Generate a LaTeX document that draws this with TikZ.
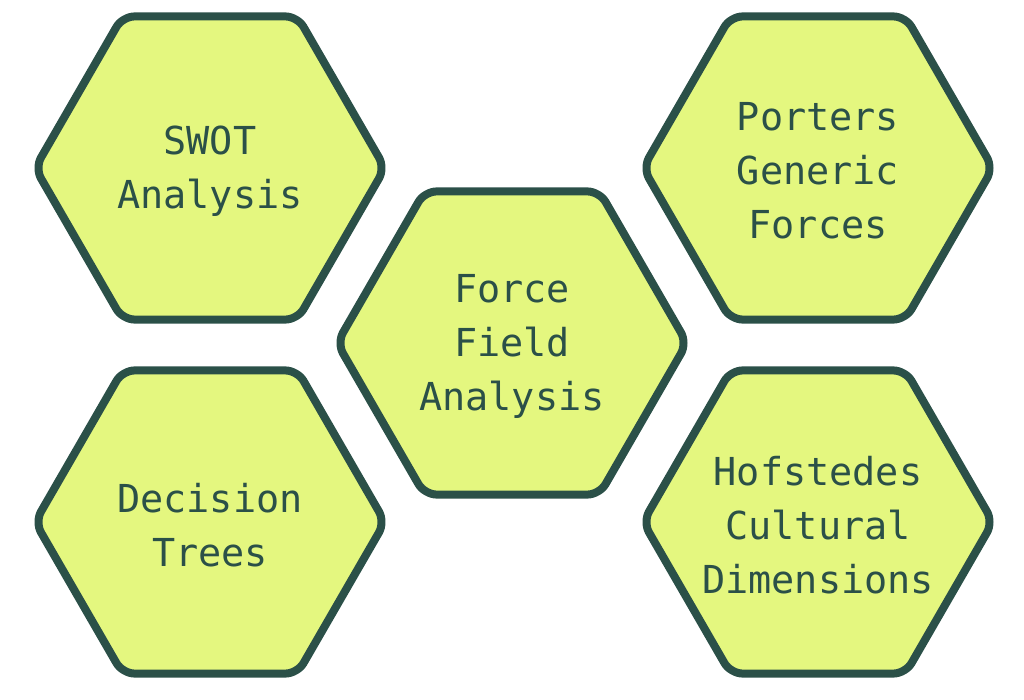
\documentclass[tikz,border=0pt]{standalone}
\usepackage{fontspec}
\setmonofont{DejaVu Sans Mono}
\usetikzlibrary{shapes.geometric}
\definecolor{hexfill}{HTML}{E4F77F}
\definecolor{hexline}{HTML}{2B5048}
\tikzset{
  hexbox/.style={regular polygon, regular polygon sides=6, minimum size=350pt,
    inner sep=0pt, draw=hexline, fill=hexfill, line width=8pt, rounded corners=12pt},
  hextext/.style={text=hexline, align=center, inner sep=0pt, yshift=-3pt,
    font=\ttfamily\fontsize{38.5}{54}\selectfont}
}
\begin{document}
\begin{tikzpicture}[x=1pt,y=-1pt]
\useasboundingbox (0,0) rectangle (1024,700);
\node[hexbox] (swot) at (210,168) {};
\node[hexbox] (porters) at (818,168) {};
\node[hexbox] (force) at (512,343) {};
\node[hexbox] (decision) at (210,522) {};
\node[hexbox] (hofstede) at (818,522) {};
\node[hextext] (swott) at (swot.center) {SWOT\\Analysis};
\node[hextext] (porterst) at (porters.center) {Porters\\Generic\\Forces};
\node[hextext] (forcet) at (force.center) {Force\\Field\\Analysis};
\node[hextext] (decisiont) at (decision.center) {Decision\\Trees};
\node[hextext] (hofstedet) at (hofstede.center) {Hofstedes\\Cultural\\Dimensions};
\end{tikzpicture}
\end{document}
